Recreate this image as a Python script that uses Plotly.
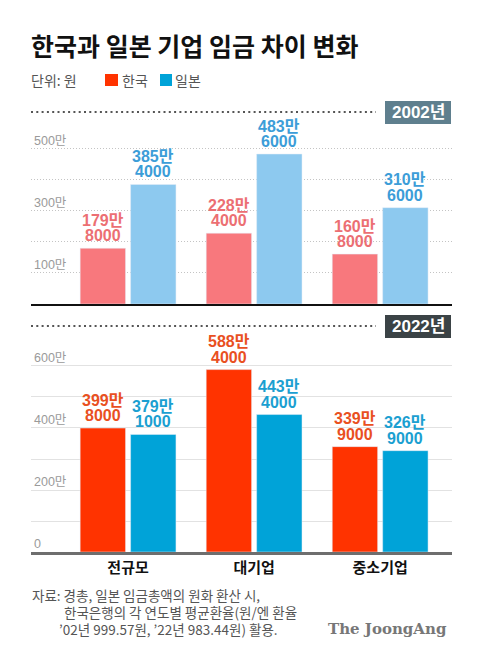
import plotly.graph_objects as go

# ---------------- data ----------------
categories = ["전규모", "대기업", "중소기업"]
korea_2002 = [1798000, 2284000, 1608000]   # 원
japan_2002 = [3854000, 4836000, 3106000]
korea_2022 = [3998000, 5884000, 3399000]
japan_2022 = [3791000, 4434000, 3269000]

top_tickvals = [100, 200, 300, 400, 500]
top_ticktext = ["100만", "", "300만", "", "500만"]
bot_tickvals = [0, 100, 200, 300, 400, 500, 600]
bot_ticktext = ["0", "", "200만", "", "400만", "", "600만"]

title = "한국과 일본 기업 임금 차이 변화"
unit_text = "단위: 원"
legend_names = ["한국", "일본"]
year_labels = ["2002년", "2022년"]
source_lines = [
    "자료: 경총, 일본 임금총액의 원화 환산 시,",
    "한국은행의 각 연도별 평균환율(원/엔 환율",
    "’02년 999.57원, ’22년 983.44원) 활용.",
]
brand = "The JoongAng"

# ---------------- styles ----------------
# the page body has an 8px margin, so the figure is drawn 8px in from the window edge
OFF = 8
W, H = 480 - OFF, 655 - OFF
def px(p): return (p - OFF) / W
def py(p): return 1 - (p - OFF) / H

KR_FONT = "Noto Sans CJK KR, Noto Sans, sans-serif"
NUM_FONT = "Liberation Sans, Noto Sans CJK KR, sans-serif"

c_kr_top, c_jp_top = "#F8787D", "#8DC9EF"
c_kr_bot, c_jp_bot = "#FF3300", "#00A3D8"
t_kr_top, t_jp_top = "#EC6F73", "#3C9DD8"
t_kr_bot, t_jp_bot = "#E9501F", "#1B9FD1"

def man(v):
    return [x / 10000 for x in v]

fig = go.Figure()
fig.add_trace(go.Bar(x=categories, y=man(korea_2002), name="한국", marker_color=c_kr_top,
                     xaxis="x", yaxis="y", showlegend=False, hoverinfo="skip"))
fig.add_trace(go.Bar(x=categories, y=man(japan_2002), name="일본", marker_color=c_jp_top,
                     xaxis="x", yaxis="y", showlegend=False, hoverinfo="skip"))
fig.add_trace(go.Bar(x=categories, y=man(korea_2022), name="한국", marker_color=c_kr_bot,
                     xaxis="x2", yaxis="y2", showlegend=False, hoverinfo="skip"))
fig.add_trace(go.Bar(x=categories, y=man(japan_2022), name="일본", marker_color=c_jp_bot,
                     xaxis="x2", yaxis="y2", showlegend=False, hoverinfo="skip"))

annotations = []
def value_labels(vals, xa, ya, color, side):
    for cat, v in zip(categories, vals):
        l1 = f"{v // 10000}만"
        l2 = f"{v % 10000:04d}"
        for txt, shift in ((l2, 2), (l1, 17.5)):
            annotations.append(dict(
                x=cat, y=v / 10000, xref=xa, yref=ya, text=txt, showarrow=False,
                xanchor="center", yanchor="bottom", xshift=side * 25.3, yshift=shift,
                font=dict(family=NUM_FONT, size=16, color=color, weight="bold")))

value_labels(korea_2002, "x", "y", t_kr_top, -1)
value_labels(japan_2002, "x", "y", t_jp_top, 1)
value_labels(korea_2022, "x2", "y2", t_kr_bot, -1)
value_labels(japan_2022, "x2", "y2", t_jp_bot, 1)

# title, unit, legend
annotations.append(dict(x=px(29), y=py(45), xref="paper", yref="paper", text=title,
                        showarrow=False, xanchor="left", yanchor="middle",
                        font=dict(family=KR_FONT, size=25, color="#111", weight="bold")))
annotations.append(dict(x=px(29), y=py(80), xref="paper", yref="paper", text=unit_text,
                        showarrow=False, xanchor="left", yanchor="middle",
                        font=dict(family=KR_FONT, size=14, color="#555")))
shapes = []
for (x0, x1, tx, col, name) in ((105, 118, 120, c_kr_bot, legend_names[0]),
                                (160, 172, 173, c_jp_bot, legend_names[1])):
    shapes.append(dict(type="rect", xref="paper", yref="paper", x0=px(x0), x1=px(x1),
                       y0=py(86), y1=py(74), fillcolor=col, line_width=0))
    annotations.append(dict(x=px(tx), y=py(80), xref="paper", yref="paper", text=name,
                            showarrow=False, xanchor="left", yanchor="middle",
                            font=dict(family=KR_FONT, size=14, color="#555")))

# year headers: dotted line + box
for (yline, box_col, lab) in ((112, "#5F7F8E", year_labels[0]), (326, "#3B4346", year_labels[1])):
    shapes.append(dict(type="line", xref="paper", yref="paper", x0=px(31), x1=px(376),
                       y0=py(yline), y1=py(yline),
                       line=dict(color="#555", width=2, dash="2px,3.3px")))
    shapes.append(dict(type="rect", xref="paper", yref="paper", x0=px(385), x1=px(451),
                       y0=py(yline + 12), y1=py(yline - 11), fillcolor=box_col, line_width=0))
    annotations.append(dict(x=px(418), y=py(yline + 0.5), xref="paper", yref="paper", text=lab,
                            showarrow=False, xanchor="center", yanchor="middle",
                            font=dict(family=NUM_FONT, size=17, color="white", weight="bold")))

# footer
for (txt, x, y) in ((source_lines[0], 30, 595), (source_lines[1], 62, 612), (source_lines[2], 57, 629)):
    annotations.append(dict(x=px(x), y=py(y), xref="paper", yref="paper", text=txt,
                            showarrow=False, xanchor="left", yanchor="middle",
                            font=dict(family=KR_FONT, size=13.5, color="#555")))
annotations.append(dict(x=px(449), y=py(629), xref="paper", yref="paper", text=brand,
                        showarrow=False, xanchor="right", yanchor="middle",
                        font=dict(family="DejaVu Serif, Liberation Serif, serif", size=15,
                                  color="#777", weight="bold")))

xdom = [px(31), px(452)]
xrange = [-0.77, 2.57]
tickfont = dict(family=NUM_FONT, size=12.5, color="#9A9A9A")

fig.update_layout(
    width=W, height=H, margin=dict(l=0, r=0, t=0, b=0),
    paper_bgcolor="white", plot_bgcolor="white",
    barmode="group", bargap=0.2, bargroupgap=0.1,
    showlegend=False,
    xaxis=dict(domain=xdom, anchor="y", type="category", range=xrange,
               showticklabels=False, ticks="", showgrid=False,
               showline=True, linecolor="#111", linewidth=1.5, fixedrange=True),
    yaxis=dict(domain=[py(304), py(112)], anchor="x", range=[0, 619],
               tickvals=top_tickvals, ticktext=top_ticktext, ticks="",
               ticklabelposition="inside top", tickfont=tickfont,
               showgrid=True, gridcolor="#C4C4C4", gridwidth=1, griddash="1px,2px",
               zeroline=False, showline=False, fixedrange=True),
    xaxis2=dict(domain=xdom, anchor="y2", type="category", range=xrange,
                ticks="", showgrid=False, showline=True, linecolor="#6E6E6E", linewidth=2.5,
                tickfont=dict(family=KR_FONT, size=15, color="#111", weight="bold"),
                fixedrange=True),
    yaxis2=dict(domain=[py(552), py(326)], anchor="x2", range=[0, 729],
                tickvals=bot_tickvals, ticktext=bot_ticktext, ticks="",
                ticklabelposition="inside top", tickfont=tickfont,
                showgrid=True, gridcolor="#E2E2E2", gridwidth=1,
                zeroline=False, showline=False, fixedrange=True),
    annotations=annotations, shapes=shapes,
)

fig.write_html("out.html", config={"displayModeBar": False})
